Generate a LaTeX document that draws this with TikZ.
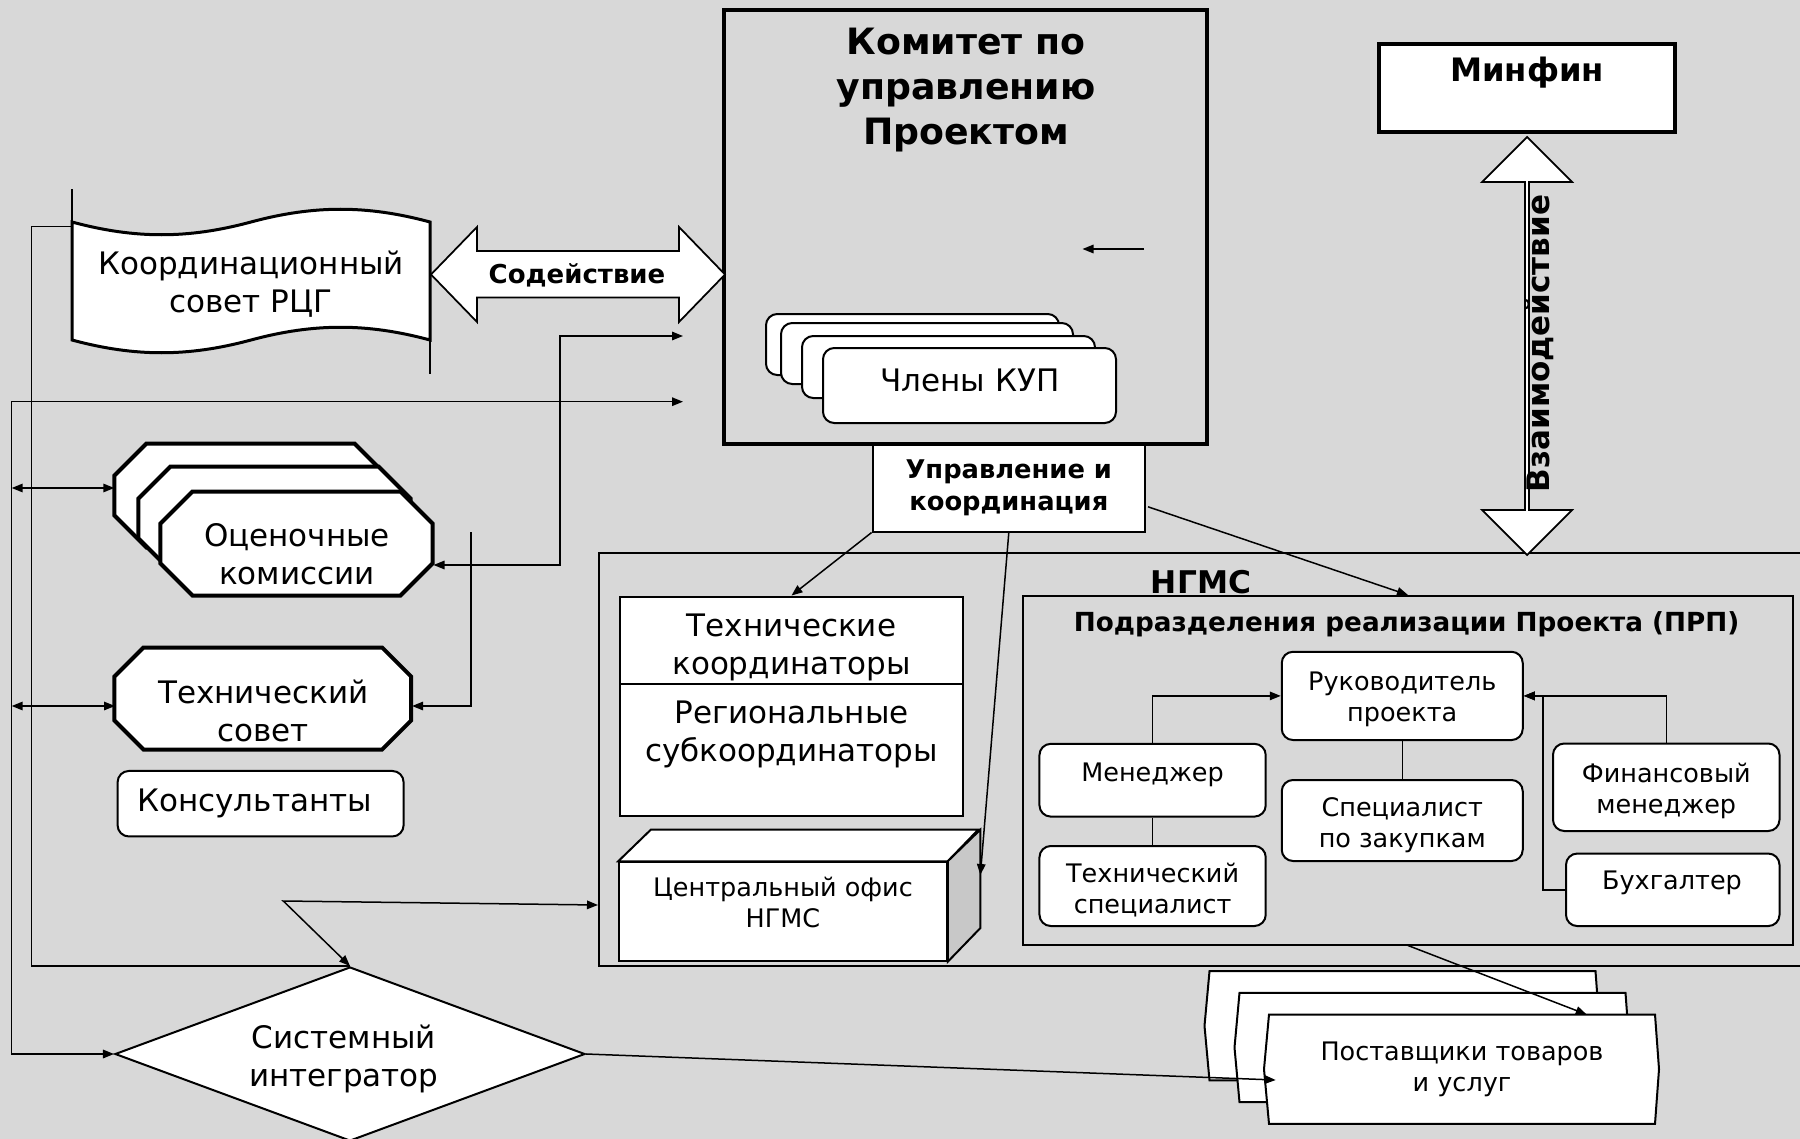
\documentclass[tikz,border=0pt]{standalone}
\usepackage{fontspec}
\setmainfont{DejaVu Sans}
\usepackage{tikz}
\usetikzlibrary{shapes.geometric,arrows.meta,calc}
\definecolor{bggray}{RGB}{216,216,216}
\definecolor{sidegray}{RGB}{200,200,200}
\newcommand{\fbig}{\fontsize{12.4}{15.2}\selectfont}
\newcommand{\fsmall}{\fontsize{10.2}{12.4}\selectfont}
\newcommand{\ftitle}{\fontsize{14.5}{18}\selectfont\bfseries}
\newcommand{\fminfin}{\fontsize{12.9}{15}\selectfont\bfseries}
\newcommand{\fvz}{\fontsize{12.4}{15}\selectfont\bfseries}
\newcommand{\fngms}{\fontsize{12.5}{15}\selectfont\bfseries}
\newcommand{\fprp}{\fontsize{10.5}{13}\selectfont\bfseries}
\newcommand{\fsod}{\fontsize{10.4}{13}\selectfont\bfseries}
\newcommand{\fupr}{\fontsize{10.3}{12.8}\selectfont\bfseries}

\begin{document}
\begin{tikzpicture}[x=0.4pt, y=-0.4pt, every node/.style={inner sep=0pt, align=center, font=\fbig},
	>={Triangle[length=4.4pt,width=3.4pt]}]
	\tikzset{wbox/.style={draw, fill=white, line width=0.8pt},
		rbox/.style={wbox, rounded corners=4.5pt},
		obox/.style={draw, fill=white, line width=1.6pt},
		con/.style={line width=0.6pt},
		blk/.style={draw, fill=white, line width=0.7pt}}
	\useasboundingbox (0,0) rectangle (1800,1139);
	\fill[bggray] (0,0) rectangle (1800,1139);

	% NGMS and PRP frames
	\node[draw, line width=0.8pt, minimum width=484.4pt, minimum height=165.2pt] (ngms) at (1204.5,759.5) {};
	\node[font=\fngms, anchor=base] (ngmsT) at (1201,593) {НГМС};
	\node[draw, line width=0.8pt, minimum width=307.7pt, minimum height=139.4pt] (prp) at (1408,770.25) {};
	\node[font=\fprp, anchor=base] (prpT) at (1406.6,631.8) {Подразделения реализации Проекта (ПРП)};

	% committee
	\node[wbox, font=\fupr, minimum width=109pt, minimum height=35pt] (upr) at (1008.8,487.8) {Управление и\\координация};
	\node[draw, line width=1.6pt, minimum width=193.2pt, minimum height=173.6pt] (kup) at (965.5,227) {};
	\node[font=\ftitle] (kupT) at (966,90) {Комитет по\\управлению\\Проектом};
	\node[rbox, minimum width=117.2pt, minimum height=24.4pt] (m1) at (912.5,344.5) {};
	\node[rbox, minimum width=116.8pt, minimum height=24.4pt] (m2) at (927,353.5) {};
	\node[rbox, minimum width=117.2pt, minimum height=24.8pt] (m3) at (948.5,367) {};
	\node[rbox, minimum width=117.2pt, minimum height=30pt] (m4) at (969.5,385.5) {};
	\node[anchor=base] (m4T) at (970,391) {Члены КУП};
	\coordinate (kupC) at (1144,249);
	\coordinate (kupD) at (1082.5,249);
	\draw[con,->] (kupC) -- (kupD);

	% minfin
	\node[draw, fill=white, line width=1.6pt, minimum width=118.4pt, minimum height=35.2pt] (minfin) at (1527,88) {};
	\node[font=\fminfin, anchor=base] (minfinT) at (1527,82) {Минфин};
	\draw[blk] (minfin.south) ++(0,3) -- ++(45,45) -- ++(-43,0) -- ++(0,328) -- ++(43,0) -- ++(-45,45)
		-- ++(-45,-45) -- ++(43,0) -- ++(0,-328) -- ++(-43,0) -- cycle;
	\node[font=\fvz, rotate=90] (vzT) at (1540,343.5) {Взаимодействие};

	% coordination council
	\draw[wbox, line width=1.2pt] (72,222) .. controls (135,239) and (188,239) .. (251,222)
		.. controls (314,205) and (367,205) .. (430,222) -- (430,340)
		.. controls (367,323) and (314,323) .. (251,340)
		.. controls (188,357) and (135,357) .. (72,340) -- cycle;
	\draw[line width=0.8pt] (72,222) -- (72,189);
	\draw[line width=0.8pt] (430,340) -- (430,374);
	\node[minimum width=143.2pt, minimum height=47.2pt] (koord) at (251,284.5) {Координационный\\совет РЦГ};
	\draw[blk] (koord.east) ++(0.5,-10) -- ++(46,-47.5) -- ++(0,24) -- ++(202,0) -- ++(0,-24) -- ++(46,47.5)
		-- ++(-46,47.5) -- ++(0,-24.5) -- ++(-202,0) -- ++(0,24.5) -- cycle;
	\node[font=\fsod, anchor=base] (sodT) at (577,283.6) {Содействие};

	% left column
	\foreach \n/\x/\y in {o1/251/496, o2/275/519, o3/297/544} {
		\node[minimum width=108.8pt, minimum height=41.6pt] (\n) at (\x,\y) {};
		\draw[obox] ($(\n.north west)+(32,0)$) -- ++(208,0) -- ++(32,32) -- ++(0,40) -- ++(-32,32)
			-- ++(-208,0) -- ++(-32,-32) -- ++(0,-40) -- cycle;
	}
	\node (o3T) at (297,554.3) {Оценочные\\комиссии};
	\node[minimum width=118.64pt, minimum height=40.8pt] (ts) at (263.3,699) {};
	\draw[obox] ($(ts.north west)+(29,0)$) -- ++(238.6,0) -- ++(29,29) -- ++(0,44) -- ++(-29,29)
		-- ++(-238.6,0) -- ++(-29,-29) -- ++(0,-44) -- cycle;
	\node (tsT) at (263.3,710.5) {Технический\\совет};
	\node[rbox, minimum width=114.4pt, minimum height=26.2pt] (kons) at (260.6,803.7) {};
	\node (konsT) at (254.6,803.7) {Консультанты};
	\node[wbox, diamond, minimum width=188pt, minimum height=69.6pt] (sys) at (350,1054) {};
	\node (sysT) at (344,1059) {Системный\\интегратор};

	% coordinators and central office
	\node[wbox, minimum width=137.2pt, minimum height=35pt] (tk1) at (791.5,640.25) {};
	\node (tk1T) at (791.5,647.5) {Технические\\координаторы};
	\node[wbox, minimum width=137.2pt, minimum height=52.6pt] (tk2) at (791.5,749.75) {};
	\node (tk2T) at (791.5,734) {Региональные\\субкоординаторы};
	\node[wbox, minimum width=131pt, minimum height=39.4pt] (cof) at (783,911.5) {};
	\draw[wbox] (cof.north west) -- ++(32.6,-31.6) -- ++(327.4,0) -- (cof.north east) -- cycle;
	\draw[wbox, fill=sidegray] (cof.north east) -- ++(32.6,-31.6) -- ++(0,98.4) -- (cof.south east) -- cycle;
	\node[font=\fsmall] (cofT) at (783,902.5) {Центральный офис\\НГМС};

	% PRP staff
	\node[rbox, minimum width=96.4pt, minimum height=35.3pt] (ruk) at (1402.25,695.9) {};
	\node[font=\fsmall] (rukT) at (1402.25,699.4) {Руководитель\\проекта};
	\node[rbox, minimum width=90.5pt, minimum height=29.1pt] (men) at (1152.6,780.2) {};
	\node[font=\fsmall, anchor=base] (menT) at (1152.6,781) {Менеджер};
	\node[rbox, minimum width=96.4pt, minimum height=32.4pt] (spec) at (1402.25,820.5) {};
	\node[font=\fsmall] (specT) at (1402.25,825) {Специалист\\по закупкам};
	\node[rbox, minimum width=90.5pt, minimum height=32pt] (tspec) at (1152.6,886) {};
	\node[font=\fsmall] (tspecT) at (1152.6,890.5) {Технический\\специалист};
	\node[rbox, minimum width=90.6pt, minimum height=35pt] (fin) at (1666.25,787.25) {};
	\node[font=\fsmall] (finT) at (1666.25,790.5) {Финансовый\\менеджер};
	\node[rbox, minimum width=85.4pt, minimum height=29pt] (buh) at (1672.75,889.8) {};
	\node[font=\fsmall, anchor=base] (buhT) at (1672,889.7) {Бухгалтер};
	\draw[con,->] (men.north) |- (ruk.west);
	\draw[con] (men.south) -- (tspec.north);
	\draw[con] (ruk.south) -- (spec.north);
	\draw[con,->] (fin.north) |- (ruk.east);
	\draw[con,->] (buh.west) -- ++(-22,0) |- (ruk.east);

	% suppliers
	\foreach \n/\x/\y in {p1/1402.5/1025.85, p2/1432.5/1047.5, p3/1462/1069.15} {
		\node[minimum width=154pt, minimum height=43.3pt] (\n) at (\x,\y) {};
		\draw[wbox] (\n.north west) -- (\n.north east) -- ($(\n.east)+(4,0)$) -- (\n.south east)
			-- (\n.south west) -- ($(\n.west)+(-5,0)$) -- cycle;
	}
	\node[font=\fsmall] (p3T) at (p3) {Поставщики товаров\\и услуг};

	% connectors
	\coordinate (rail1) at (11.7,0);
	\coordinate (rail2) at (31.7,0);
	\coordinate (kupA) at (683,401.7);
	\coordinate (kupB) at (683,336);
	\coordinate (tsA) at (471,532);
	\coordinate (kink) at (283.3,901);
	\draw[con] ($(koord.north west)+(0,1.5)$) -| (rail2 |- sys.north) -- (sys.north);
	\draw[con,<->] (kupA) -| (rail1 |- sys.west) -- (sys.west);
	\draw[con,<->] ($(rail1 |- o1.west)+(0,-8)$) -- ++(102.6,0);
	\draw[con,<->] ($(rail1 |- ts.west)+(0,7)$) -- ++(103.3,0);
	\draw[con,<->] (kupB) -- ++(-123,0) |- ($(o3.east)+(0,21)$);
	\draw[con,->] (tsA) |- ($(ts.east)+(0,7)$);
	\draw[con,<->] (sys.north) -- (kink) -- ($(ngms.west)+(0,145.5)$);
	\draw[con,->] (upr.south west) -- (tk1.north);
	\draw[con,->] (upr.south) -- ($(cof.east)+(32.6,-36.5)$);
	\draw[con,->] ($(upr.east)+(2,19)$) -- (prp.north);
	\draw[con,->] (prp.south) -- ($(p3.north)+(124.7,0)$);
	\draw[con,->] (sys.east) -- ($(p3.west)+(6.7,10.85)$);
\end{tikzpicture}
\end{document}
